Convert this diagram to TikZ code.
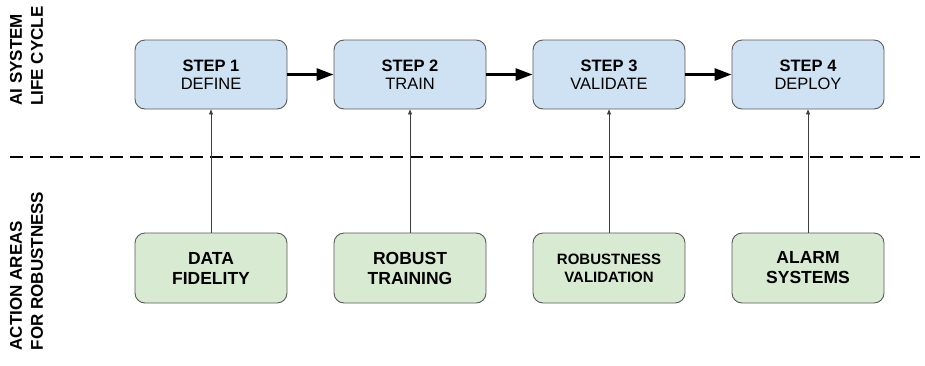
\documentclass[tikz,border=0pt]{standalone}
\usepackage{fontspec}
\setmainfont{Liberation Sans}
\usetikzlibrary{arrows.meta}

\definecolor{stepblue}{HTML}{CFE2F3}
\definecolor{areagreen}{HTML}{D9EAD3}
\definecolor{boxline}{HTML}{595959}

\tikzset{
    stepbox/.style={draw=boxline, line width=0.9pt, fill=stepblue, rounded corners=10pt,
        minimum width=152pt, minimum height=69pt, align=center,
        font=\fontsize{16.5}{18}\selectfont},
    areabox/.style={stepbox, fill=areagreen, minimum height=70pt,
        font=\fontsize{17.5}{20}\selectfont\bfseries},
    sidelabel/.style={rotate=90, align=left, font=\fontsize{17}{21}\selectfont\bfseries},
    flow/.style={-{Triangle[length=17pt, width=12pt]}, line width=2.8pt},
    feed/.style={-{Triangle[length=5pt, width=4pt]}, line width=0.8pt, boxline!70!black}
}

\begin{document}
\begin{tikzpicture}[x=1pt, y=-1pt]
    \useasboundingbox (0,0) rectangle (925,365);

    % Etiquetas laterales
    \node[sidelabel] (ciclo) at (26.5,56) {AI SYSTEM\\LIFE CYCLE};
    \node[sidelabel] (acciones) at (26.5,271) {ACTION AREAS\\FOR ROBUSTNESS};

    % Separador
    \draw[line width=2.6pt, dash pattern=on 13pt off 7pt] (10,157) -- (920,157);

    % Pasos del ciclo de vida
    \node[stepbox] (paso1) at (211,74.5) {\textbf{STEP 1}\\DEFINE};
    \node[stepbox] (paso2) at (410,74.5) {\textbf{STEP 2}\\TRAIN};
    \node[stepbox] (paso3) at (609,74.5) {\textbf{STEP 3}\\VALIDATE};
    \node[stepbox] (paso4) at (808,74.5) {\textbf{STEP 4}\\DEPLOY};

    \draw[flow] (paso1) -- (paso2);
    \draw[flow] (paso2) -- (paso3);
    \draw[flow] (paso3) -- (paso4);

    % Areas de accion
    \node[areabox] (datos) at (211,268) {DATA\\FIDELITY};
    \node[areabox] (entreno) at (410,268) {ROBUST\\TRAINING};
    \node[areabox, font=\fontsize{15}{18}\selectfont\bfseries] (valid) at (609,268) {ROBUSTNESS\\VALIDATION};
    \node[areabox] (alarma) at (808,268) {ALARM\\SYSTEMS};

    \draw[feed] (datos) -- (paso1);
    \draw[feed] (entreno) -- (paso2);
    \draw[feed] (valid) -- (paso3);
    \draw[feed] (alarma) -- (paso4);
\end{tikzpicture}
\end{document}
